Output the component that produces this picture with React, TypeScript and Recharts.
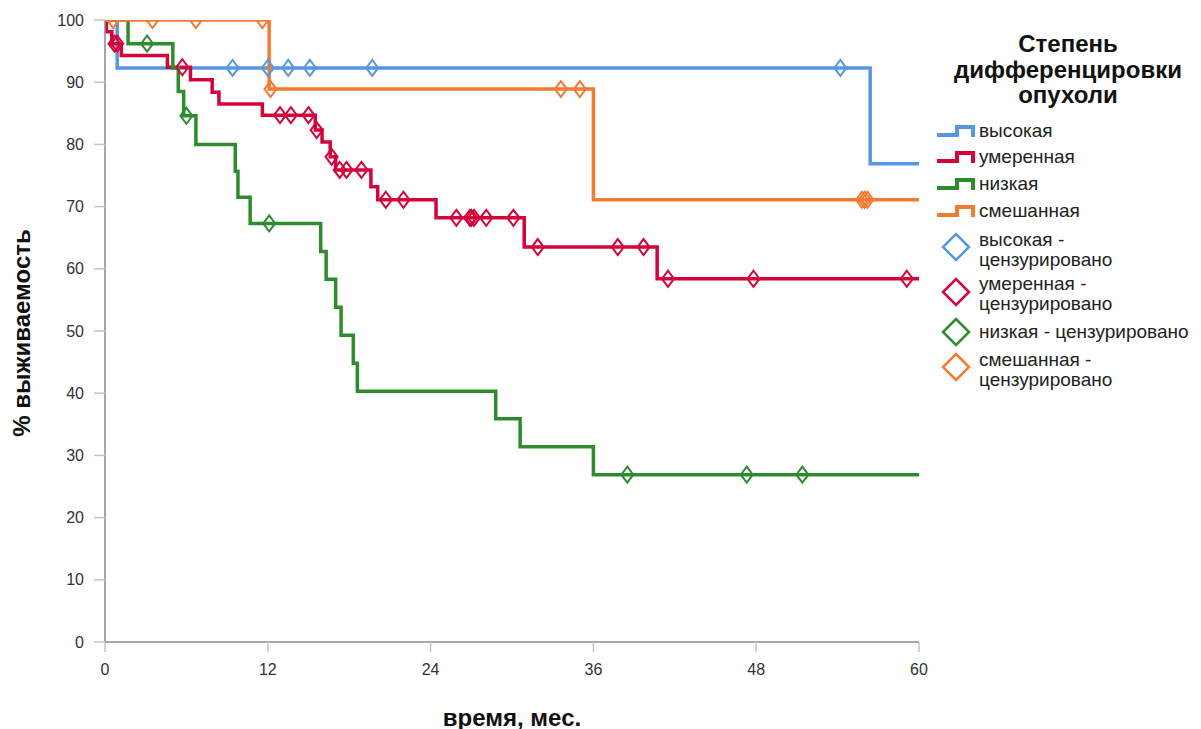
import React from "react";
import { LineChart, Line, XAxis, YAxis } from "recharts";

const FONT = '"Liberation Sans", Arial, sans-serif';

// ступени кривых Каплана–Мейера: [месяц, % выживших]
const highSteps: [number, number][] = [[0, 100], [0.9, 92.3], [56.4, 76.9]];
const highCensored = [9.4, 12.0, 13.5, 15.1, 19.7, 54.2];

const moderateSteps: [number, number][] = [
  [0, 100], [0.1, 98.1], [0.5, 96.2], [1.2, 94.3], [4.6, 92.4], [6.3, 90.4],
  [7.9, 88.4], [8.4, 86.5], [11.6, 84.7], [15.5, 82.3], [16.0, 80.4],
  [16.6, 78.0], [17.0, 75.9], [19.6, 73.2], [20.1, 71.1], [24.4, 68.2],
  [30.9, 63.5], [40.7, 58.4],
];
const moderateCensored = [
  0.7, 0.9, 5.7, 12.9, 13.7, 15.0, 15.6, 16.7, 17.3, 17.8, 18.9, 20.7, 22.0,
  25.9, 26.9, 27.0, 27.2, 28.1, 30.1, 31.9, 37.8, 39.7, 41.5, 47.8, 59.1,
];

const lowSteps: [number, number][] = [
  [0, 100], [1.7, 96.2], [5.0, 92.3], [5.4, 88.5], [5.8, 84.6], [6.7, 80.0],
  [9.6, 75.7], [9.8, 71.5], [10.7, 67.3], [15.9, 62.8], [16.3, 58.3],
  [17.0, 53.8], [17.4, 49.3], [18.3, 44.8], [18.6, 40.3], [28.8, 35.9],
  [30.6, 31.4], [36.0, 26.9],
];
const lowCensored = [3.1, 6.0, 12.1, 38.5, 47.3, 51.4];

const mixedSteps: [number, number][] = [[0, 100], [12.1, 88.9], [36.0, 71.1]];
const mixedCensored = [0.6, 3.5, 6.7, 11.6, 12.2, 33.6, 35.0, 55.8, 56.0, 56.2];

const xTicks = [0, 12, 24, 36, 48, 60];
const yTicks = [0, 10, 20, 30, 40, 50, 60, 70, 80, 90, 100];

const groups = [
  { key: "high", name: "высокая", color: "#5797e0", steps: highSteps, censored: highCensored },
  { key: "moderate", name: "умеренная", color: "#d4033b", steps: moderateSteps, censored: moderateCensored },
  { key: "low", name: "низкая", color: "#2e8b2e", steps: lowSteps, censored: lowCensored },
  { key: "mixed", name: "смешанная", color: "#f47a32", steps: mixedSteps, censored: mixedCensored },
];

const censorLabels = [
  ["высокая -", "цензурировано"],
  ["умеренная -", "цензурировано"],
  ["низкая - цензурировано"],
  ["смешанная -", "цензурировано"],
];

type Pt = { t: number; s: number; c: boolean };

function buildSeries(steps: [number, number][], censored: number[]): Pt[] {
  const levelAt = (t: number) => {
    let v = steps[0][1];
    for (const [st, sv] of steps) if (st <= t) v = sv;
    return v;
  };
  const pts: Pt[] = steps.map(([t, s]) => ({ t, s, c: false }));
  censored.forEach((t) => pts.push({ t, s: levelAt(t), c: true }));
  pts.push({ t: 60, s: levelAt(60), c: false });
  return pts.sort((a, b) => a.t - b.t);
}

const diamond = (cx: number, cy: number, w: number, h: number) =>
  `M${cx},${cy - h} L${cx + w},${cy} L${cx},${cy + h} L${cx - w},${cy} Z`;

function CensorDot(props: any, color: string) {
  const { cx, cy, payload, index } = props;
  if (!payload?.c) return <g key={`n-${index}`} />;
  return (
    <path
      key={`d-${index}`}
      d={diamond(cx, cy, 6, 8)}
      fill="none"
      stroke={color}
      strokeWidth={2}
    />
  );
}

const legendText = { fontSize: 19, lineHeight: "20px", color: "#222", whiteSpace: "nowrap" as const };

function LegendBox() {
  const stepRows = [131, 157, 184, 211];
  const censorRows = [
    { dy: 247, lines: [240, 260] },
    { dy: 292, lines: [284, 304] },
    { dy: 332, lines: [332] },
    { dy: 367, lines: [360, 380] },
  ];
  return (
    <div style={{ position: "absolute", left: 0, top: 0, width: 1201, height: 729, pointerEvents: "none" }}>
      <div
        style={{
          position: "absolute",
          left: 935,
          top: 31,
          width: 266,
          textAlign: "center",
          fontWeight: "bold",
          fontSize: 24,
          lineHeight: "25.5px",
          color: "#111",
        }}
      >
        Степень
        <br />
        дифференцировки
        <br />
        опухоли
      </div>
      <svg width={1201} height={729} style={{ position: "absolute", left: 0, top: 0 }}>
        {groups.map((g, i) => {
          const y = stepRows[i];
          return (
            <path
              key={g.key}
              d={`M937,${y + 4} H957 V${y - 4} H973 V${y + 6}`}
              fill="none"
              stroke={g.color}
              strokeWidth={4}
            />
          );
        })}
        {groups.map((g, i) => (
          <path
            key={`c-${g.key}`}
            d={diamond(956, censorRows[i].dy, 13, 13)}
            fill="none"
            stroke={g.color}
            strokeWidth={2.5}
          />
        ))}
      </svg>
      {groups.map((g, i) => (
        <div key={`t-${g.key}`} style={{ ...legendText, position: "absolute", left: 979, top: stepRows[i] - 10 }}>
          {g.name}
        </div>
      ))}
      {censorRows.map((r, i) =>
        censorLabels[i].map((txt, j) => (
          <div key={`ct-${i}-${j}`} style={{ ...legendText, position: "absolute", left: 979, top: r.lines[j] - 10 }}>
            {txt}
          </div>
        ))
      )}
    </div>
  );
}

export default function App() {
  return (
    <div style={{ position: "absolute", left: 0, top: 0, width: 1201, height: 729, background: "#fff", fontFamily: FONT }}>
      <LineChart width={1201} height={729} margin={{ top: 20, right: 282, bottom: 0, left: 0 }} style={{ fontFamily: FONT }}>
        <XAxis
          type="number"
          dataKey="t"
          domain={[0, 60]}
          ticks={xTicks}
          height={87}
          allowDataOverflow
          axisLine={{ stroke: "#8a8a8a", strokeWidth: 1.5 }}
          tickLine={{ stroke: "#c4c4c4", strokeWidth: 1.5 }}
          tickSize={10}
          tickMargin={12}
          tick={{ fill: "#333", fontSize: 16 }}
        />
        <YAxis
          type="number"
          domain={[0, 100]}
          ticks={yTicks}
          width={105}
          allowDataOverflow
          axisLine={{ stroke: "#8a8a8a", strokeWidth: 1.5 }}
          tickLine={{ stroke: "#c4c4c4", strokeWidth: 1.5 }}
          tickSize={11}
          tickMargin={10}
          tick={{ fill: "#333", fontSize: 16 }}
        />
        {groups.map((g) => (
          <Line
            key={g.key}
            data={buildSeries(g.steps, g.censored)}
            dataKey="s"
            name={g.name}
            type="stepAfter"
            stroke={g.color}
            strokeWidth={3.5}
            dot={(p: any) => CensorDot(p, g.color)}
            activeDot={false}
            isAnimationActive={false}
          />
        ))}
      </LineChart>
      <div
        style={{
          position: "absolute",
          left: 22,
          top: 333,
          transform: "translate(-50%, -50%) rotate(-90deg)",
          fontWeight: "bold",
          fontSize: 24,
          whiteSpace: "nowrap",
          color: "#111",
        }}
      >
        % выживаемость
      </div>
      <div
        style={{
          position: "absolute",
          left: 512,
          top: 718,
          transform: "translate(-50%, -50%)",
          fontWeight: "bold",
          fontSize: 24,
          whiteSpace: "nowrap",
          color: "#111",
        }}
      >
        время, мес.
      </div>
      <LegendBox />
    </div>
  );
}
